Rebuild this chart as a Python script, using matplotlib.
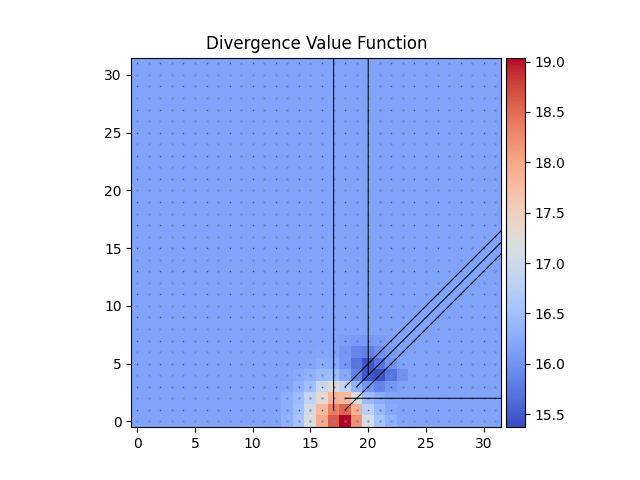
import numpy as np
import matplotlib
matplotlib.use("Agg")
import matplotlib.pyplot as plt
from mpl_toolkits.axes_grid1 import make_axes_locatable

grid_size = 32
background_value = 16.16
color_min = 15.37
color_max = 19.04
first_column = 13
row_0 = [16.32, 16.55, 17.15, 17.95, 18.6, 19.04, 18.2, 17.15, 16.55, 16.32, 16.2]
row_1 = [16.28, 16.5, 17.05, 17.8, 18.35, 18.55, 17.9, 16.8, 16.42, 16.23, 16.17]
row_2 = [16.28, 16.45, 16.85, 17.3, 17.85, 17.8, 17.2, 16.45, 16.25, 16.17, 16.16]
row_3 = [16.2, 16.32, 16.5, 16.95, 17.2, 16.85, 16.35, 16.04, 15.87, 16.03, 16.13]
row_4 = [16.17, 16.22, 16.32, 16.44, 16.47, 16.22, 15.84, 15.47, 15.42, 15.74, 16.0]
row_5 = [16.16, 16.17, 16.2, 16.26, 16.24, 16.05, 15.72, 15.45, 15.72, 16.0, 16.13]
row_6 = [16.16, 16.16, 16.17, 16.19, 16.17, 16.05, 15.88, 15.82, 15.95, 16.07, 16.13]
row_7 = [16.16, 16.16, 16.16, 16.16, 16.16, 16.11, 16.06, 16.06, 16.09, 16.13, 16.16]
rows = [row_0, row_1, row_2, row_3, row_4, row_5, row_6, row_7]

line_start_x = [17, 20, 18, 19, 18, 18]
line_start_y = [1, 4, 3, 3, 1, 2]
line_end_x = [17, 20, 31.5, 31.5, 31.5, 31.5]
line_end_y = [31.5, 31.5, 16.5, 15.5, 14.5, 2]

values = np.full((grid_size, grid_size), background_value)
for r, row in enumerate(rows):
    values[r, first_column:first_column + len(row)] = row

fig, ax = plt.subplots(figsize=(6.4, 4.8), dpi=100)
im = ax.imshow(values, origin="lower", cmap="coolwarm", vmin=color_min, vmax=color_max)

xx, yy = np.meshgrid(np.arange(grid_size), np.arange(grid_size))
odd_row = yy % 2 == 1
even_col = xx % 2 == 0
ax.plot(xx[odd_row & even_col], yy[odd_row & even_col], ls="", marker="s", ms=1.0, mew=0,
        color="#3a5288")
ax.plot(xx[odd_row & ~even_col], yy[odd_row & ~even_col], ls="", marker="s", ms=1.4, mew=0,
        color="#6a80b5")
ax.plot(xx[~odd_row], yy[~odd_row], ls="", marker="s", ms=1.4, mew=0, color="#7389bb")

for x0, y0, x1, y1 in zip(line_start_x, line_start_y, line_end_x, line_end_y):
    ax.plot([x0, x1], [y0, y1], color="black", lw=0.8, alpha=0.9, snap=False)

ax.set_xlim(-0.5, 31.5)
ax.set_ylim(-0.5, 31.5)
ax.set_title("Divergence Value Function")
divider = make_axes_locatable(ax)
cax = divider.append_axes("right", size="5%", pad=0.05)
fig.colorbar(im, cax=cax)
fig.savefig("out.png", dpi=100)
